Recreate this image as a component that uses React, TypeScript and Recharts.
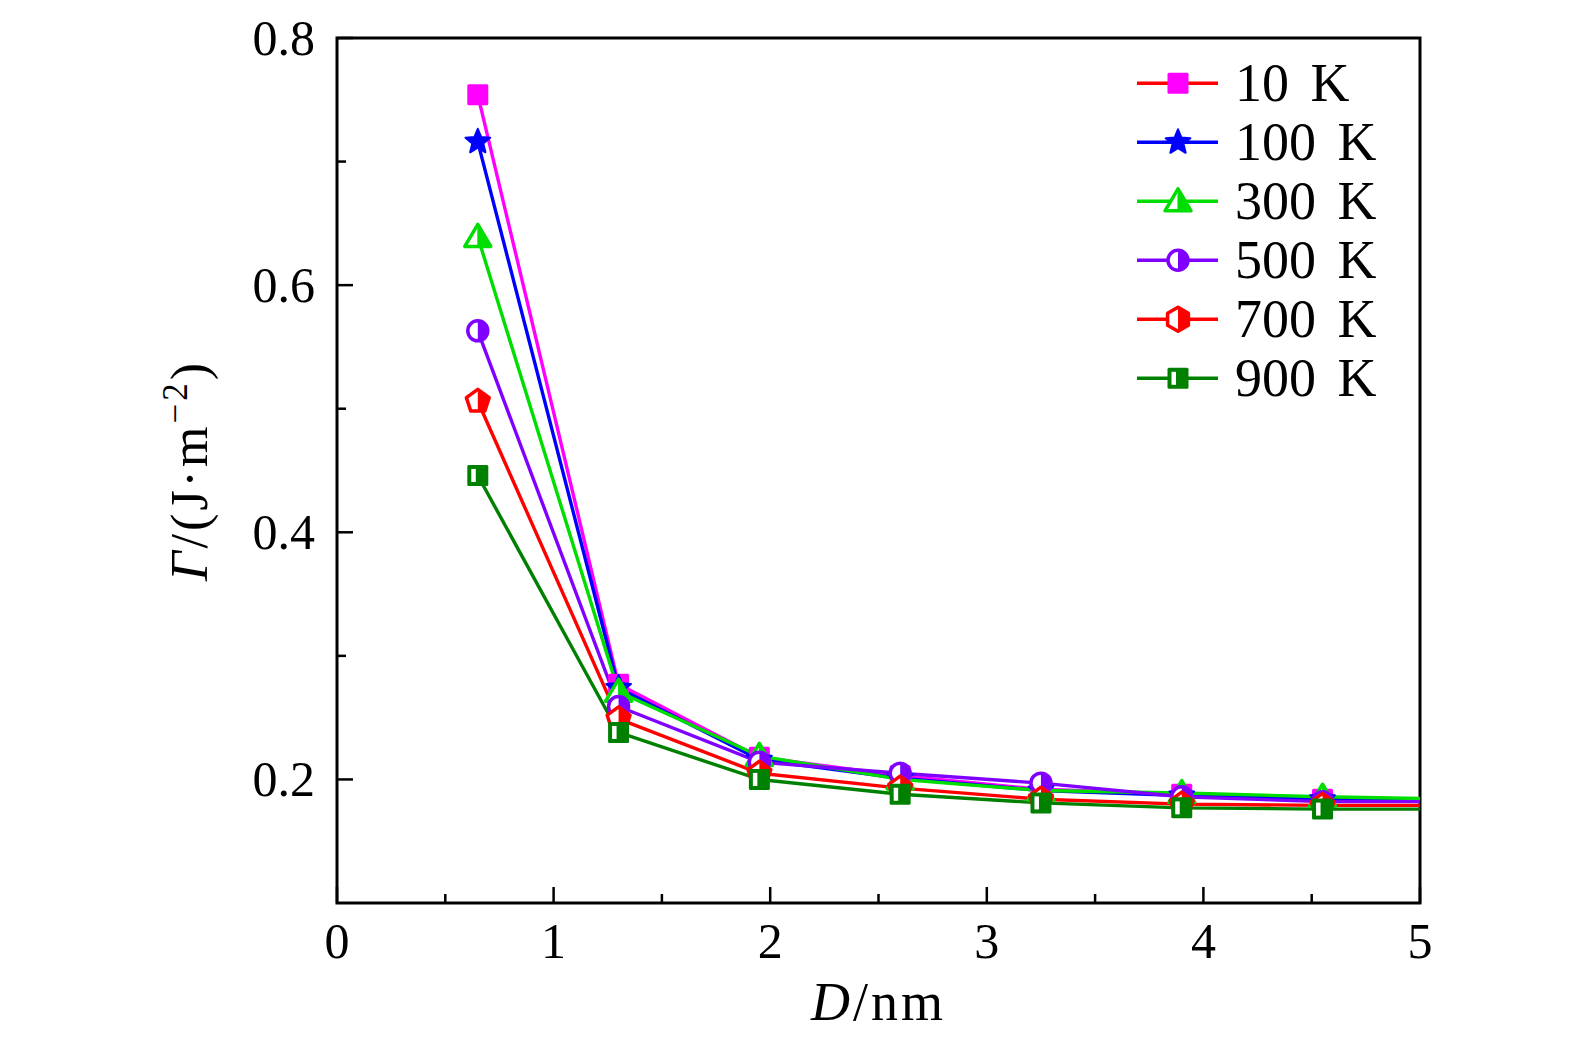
import React from 'react';
import { LineChart, Line, XAxis, YAxis, ReferenceArea, Legend } from 'recharts';

const diameters = [0.65, 1.3, 1.95, 2.6, 3.25, 3.9, 4.55, 5.2];
const gamma10K = [0.754, 0.277, 0.218, 0.203, 0.192, 0.188, 0.184, 0.183];
const gamma100K = [0.716, 0.274, 0.216, 0.201, 0.191, 0.187, 0.184, 0.183];
const gamma300K = [0.639, 0.271, 0.219, 0.2, 0.191, 0.189, 0.186, 0.184];
const gamma500K = [0.563, 0.259, 0.214, 0.205, 0.197, 0.186, 0.182, 0.182];
const gamma700K = [0.506, 0.249, 0.205, 0.193, 0.184, 0.18, 0.179, 0.179];
const gamma900K = [0.446, 0.238, 0.2, 0.188, 0.181, 0.177, 0.176, 0.176];

const seriesNames = ['10 K', '100 K', '300 K', '500 K', '700 K', '900 K'];
const seriesKeys = ['k10', 'k100', 'k300', 'k500', 'k700', 'k900'];
const seriesValues = [gamma10K, gamma100K, gamma300K, gamma500K, gamma700K, gamma900K];
const seriesColors = ['#FF00FF', '#0000FF', '#00DD00', '#8000FF', '#FF0000', '#008000'];
const legendLineColors = ['#FF0000', '#0000FF', '#00DD00', '#8000FF', '#FF0000', '#008000'];
const seriesMarkers = ['square', 'star', 'triangle', 'circle', 'pentagon', 'halfsquare'];
const legendMarkers = ['square', 'star', 'triangle', 'circle', 'hexagon', 'halfsquare'];

const xTicks = [0, 0.5, 1, 1.5, 2, 2.5, 3, 3.5, 4, 4.5, 5];
const xTickLabels = [0, 1, 2, 3, 4, 5];
const yTicks = [0.2, 0.3, 0.4, 0.5, 0.6, 0.7, 0.8];
const yTickLabels = [0.2, 0.4, 0.6, 0.8];

const data = diameters.map((d, i) => {
  const row: Record<string, number> = { D: d };
  seriesKeys.forEach((k, s) => {
    row[k] = seriesValues[s][i];
  });
  return row;
});

const FONT = 'Liberation Serif';

function polyPoints(cx: number, cy: number, n: number, R: number) {
  const pts: string[] = [];
  for (let k = 0; k < n; k++) {
    const a = -Math.PI / 2 + (2 * Math.PI * k) / n;
    pts.push(`${cx + R * Math.cos(a)},${cy + R * Math.sin(a)}`);
  }
  return pts;
}

function Marker({ kind, cx, cy, color }: { kind: string; cx: number; cy: number; color: string }) {
  switch (kind) {
    case 'square':
      return <rect x={cx - 10.5} y={cy - 10.5} width={21} height={21} rx={1.5} fill={color} />;
    case 'star': {
      const pts: string[] = [];
      for (let k = 0; k < 10; k++) {
        const a = -Math.PI / 2 + (Math.PI * k) / 5;
        const r = k % 2 === 0 ? 13 : 5.8;
        pts.push(`${cx + r * Math.cos(a)},${cy + r * Math.sin(a)}`);
      }
      return <polygon points={pts.join(' ')} fill={color} stroke={color} strokeWidth={2} strokeLinejoin="round" />;
    }
    case 'triangle':
      return (
        <g>
          <polygon
            points={`${cx},${cy - 12.5} ${cx + 13},${cy + 9.5} ${cx - 13},${cy + 9.5}`}
            fill="#fff"
            stroke={color}
            strokeWidth={3.5}
            strokeLinejoin="round"
          />
          <polygon points={`${cx - 0.5},${cy - 12.5} ${cx + 13},${cy + 9.5} ${cx - 0.5},${cy + 9.5}`} fill={color} />
        </g>
      );
    case 'circle':
      return (
        <g>
          <circle cx={cx} cy={cy} r={10} fill="#fff" stroke={color} strokeWidth={3.5} />
          <path d={`M${cx},${cy - 10} A10,10 0 0 1 ${cx},${cy + 10} Z`} fill={color} />
        </g>
      );
    case 'pentagon':
    case 'hexagon': {
      const n = kind === 'pentagon' ? 5 : 6;
      const pts = polyPoints(cx, cy, n, 12);
      const right =
        n === 5
          ? [`${cx},${cy - 12}`, pts[1], pts[2], `${cx},${cy + 12 * Math.cos(Math.PI / 5)}`]
          : [pts[0], pts[1], pts[2], pts[3]];
      return (
        <g>
          <polygon points={pts.join(' ')} fill="#fff" stroke={color} strokeWidth={3.5} strokeLinejoin="round" />
          <polygon points={right.join(' ')} fill={color} />
        </g>
      );
    }
    case 'halfsquare':
      return (
        <g>
          <rect x={cx - 10.5} y={cy - 10.5} width={21} height={21} rx={1.5} fill={color} />
          <rect x={cx - 6.5} y={cy - 6.5} width={4.5} height={13} fill="#fff" />
        </g>
      );
    default:
      return null;
  }
}

const XTick = (props: any) => {
  const { x, y, payload } = props;
  const v = payload.value;
  const major = xTickLabels.includes(v);
  return (
    <g>
      <line x1={x} x2={x} y1={y} y2={y - (major ? 16 : 9)} stroke="#000" strokeWidth={2.5} />
      {major && (
        <text x={x} y={y + 55} textAnchor="middle" fontFamily={FONT} fontSize={50} fill="#000">
          {String(v)}
        </text>
      )}
    </g>
  );
};

const YTick = (props: any) => {
  const { x, y, payload } = props;
  const v = payload.value;
  const major = yTickLabels.some((t) => Math.abs(t - v) < 1e-9);
  return (
    <g>
      <line x1={x} x2={x + (major ? 16 : 9)} y1={y} y2={y} stroke="#000" strokeWidth={2.5} />
      {major && (
        <text x={x - 22} y={y + 16.5} textAnchor="end" fontFamily={FONT} fontSize={50} fill="#000">
          {v.toFixed(1)}
        </text>
      )}
    </g>
  );
};

const XTitle = (props: any) => {
  const vb = props.viewBox || {};
  const cx = vb.x + vb.width / 2;
  const y = vb.y + 117;
  return (
    <text x={cx} y={y} textAnchor="middle" fontFamily={FONT} fontSize={54} letterSpacing={3} fill="#000">
      <tspan fontStyle="italic">D</tspan>
      <tspan>/nm</tspan>
    </text>
  );
};

const YTitle = (props: any) => {
  const vb = props.viewBox || {};
  const x = vb.x + vb.width - 130;
  const y = vb.y + vb.height / 2;
  return (
    <text
      x={x}
      y={y}
      transform={`rotate(-90 ${x} ${y})`}
      textAnchor="middle"
      fontFamily={FONT}
      fontSize={52}
      letterSpacing={3}
      fill="#000"
    >
      <tspan fontStyle="italic">Γ</tspan>
      <tspan>/(J·m</tspan>
      <tspan dy={-20} fontSize={35}>−2</tspan>
      <tspan dy={20}>)</tspan>
    </text>
  );
};

const renderLegend = () => (
  <svg width={300} height={360} style={{ overflow: 'visible', display: 'block' }}>
    {seriesNames.map((name, i) => {
      const cy = 33.3 + 59 * i;
      return (
        <g key={name}>
          <line x1={17} x2={98} y1={cy} y2={cy} stroke={legendLineColors[i]} strokeWidth={3.4} />
          <Marker kind={legendMarkers[i]} cx={58} cy={cy} color={seriesColors[i]} />
          <text x={115} y={cy + 18} fontFamily={FONT} fontSize={54} fill="#000">
            {name.replace(' ', '\u2009\u2009')}
          </text>
        </g>
      );
    })}
  </svg>
);

export default function App() {
  return (
    <div style={{ width: 1560, height: 1040, background: '#fff' }}>
      <LineChart
        width={1560}
        height={1040}
        data={data}
        margin={{ top: 30, right: 148, bottom: 144, left: 328 }}
      >
        <XAxis
          dataKey="D"
          type="number"
          domain={[0, 5]}
          ticks={xTicks}
          interval={0}
          allowDataOverflow
          height={1}
          axisLine={false}
          tickLine={false}
          tickSize={0}
          tickMargin={0}
          tick={<XTick />}
          label={<XTitle />}
        />
        <YAxis
          type="number"
          domain={[0.1, 0.8]}
          ticks={yTicks}
          interval={0}
          allowDataOverflow
          width={1}
          axisLine={false}
          tickLine={false}
          tickSize={0}
          tickMargin={0}
          tick={<YTick />}
          label={<YTitle />}
        />
        <ReferenceArea
          x1={0}
          x2={5}
          y1={0.1}
          y2={0.8}
          fill="none"
          fillOpacity={0}
          stroke="#000"
          strokeWidth={3}
          ifOverflow="visible"
        />
        {seriesKeys.map((k, i) => (
          <Line
            key={k}
            dataKey={k}
            name={seriesNames[i]}
            type="linear"
            stroke={seriesColors[i]}
            strokeWidth={3.4}
            isAnimationActive={false}
            activeDot={false}
            dot={(p: any) => {
              if (p.cx == null || p.cy == null) return <g key={`${k}-${p.index}`} />;
              return (
                <g key={`${k}-${p.index}`}>
                  <Marker kind={seriesMarkers[i]} cx={p.cx} cy={p.cy} color={seriesColors[i]} />
                </g>
              );
            }}
          />
        ))}
        <Legend
          content={renderLegend}
          layout="horizontal"
          verticalAlign="middle"
          align="center"
          wrapperStyle={{ position: 'absolute', left: 1112, top: 42, width: 300, height: 360 }}
        />
      </LineChart>
    </div>
  );
}
